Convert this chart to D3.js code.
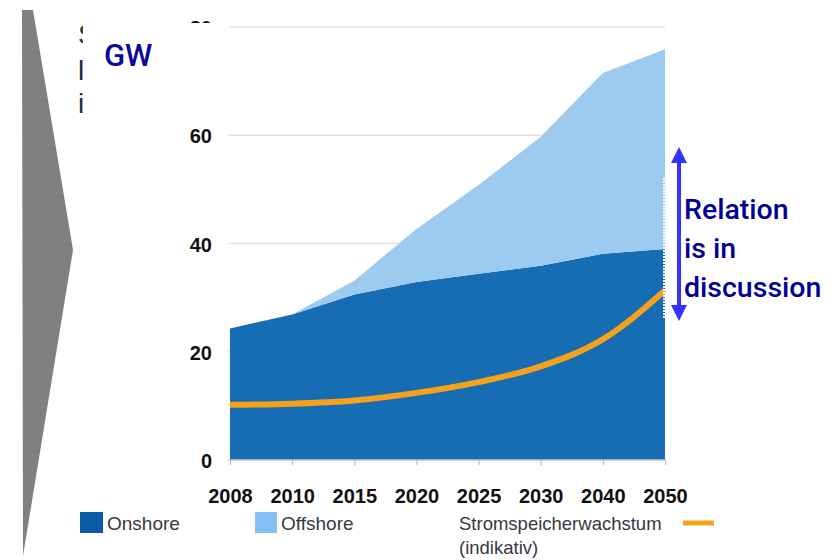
<!DOCTYPE html>
<html>
<head>
<meta charset="utf-8">
<script src="https://cdn.jsdelivr.net/npm/d3@7"></script>
<style>
  body { margin: 0; background: #fff; }
  #chartContainer { width: 834px; height: 560px; }
</style>
</head>
<body>
<div id="chartContainer"></div>
<script>
// Chart data (GW)
var years = ["2008", "2010", "2015", "2020", "2025", "2030", "2040", "2050"];
var onshore = [24.3, 26.9, 30.6, 32.9, 34.4, 35.9, 38.1, 39.0];
var offshore = [0, 0, 2.5, 9.8, 16.4, 23.8, 33.4, 36.9];
var storage = [10.2, 10.4, 11.0, 12.4, 14.4, 17.3, 22.3, 31.3];
var yTicks = [0, 20, 40, 60, 80];
var noteLines = ["Relation", "is in", "discussion"];

function init() {
    var w = 834;
    var h = 560;

    var svg = d3.select("#chartContainer")
                .append("svg")
                .attr("width", w)
                .attr("height", h);

    // Gray chevron on the left
    svg.append("polygon")
       .attr("points", "22,10 33,10 73,250 23,556")
       .attr("fill", "#808080");

    // Scales
    var x = d3.scalePoint()
              .domain(years)
              .range([230, 665]);

    var y = d3.scaleLinear()
              .domain([0, 80])
              .range([460, 27]);

    // Gridlines
    svg.append("g")
       .selectAll("line")
       .data(yTicks.filter(d => d > 0))
       .enter()
       .append("line")
       .attr("x1", 228)
       .attr("x2", 665)
       .attr("y1", d => y(d))
       .attr("y2", d => y(d))
       .attr("stroke", "#e2e2e2")
       .attr("stroke-width", 1.5);

    // Stacked areas
    var table = years.map(function(yr, i) {
        return { year: yr, onshore: onshore[i], offshore: offshore[i] };
    });
    var stack = d3.stack().keys(["onshore", "offshore"]);
    var series = stack(table);
    var colors = { onshore: "#176db3", offshore: "#9dcaef" };

    var area = d3.area()
                 .x(d => x(d.data.year))
                 .y0(d => y(d[0]))
                 .y1(d => y(d[1]));

    svg.selectAll("path.layer")
       .data(series)
       .enter()
       .append("path")
       .attr("class", "layer")
       .attr("d", area)
       .attr("fill", d => colors[d.key]);

    // Storage growth line (indicative)
    var line = d3.line()
                 .x((d, i) => x(years[i]))
                 .y(d => y(d))
                 .curve(d3.curveMonotoneX);

    svg.append("path")
       .datum(storage)
       .attr("d", line)
       .attr("fill", "none")
       .attr("stroke", "#f7a11a")
       .attr("stroke-width", 6);

    // White dotted strip at the right edge
    svg.append("line")
       .attr("x1", 665).attr("x2", 665)
       .attr("y1", 178).attr("y2", 318)
       .attr("stroke", "#f4f8fc")
       .attr("stroke-width", 4)
       .attr("stroke-dasharray", "2,1");

    // X axis
    var xAxis = svg.append("g")
                   .attr("transform", "translate(0,460)")
                   .call(d3.axisBottom(x).tickSize(5).tickSizeOuter(0).tickPadding(8));
    xAxis.select(".domain").attr("stroke", "#c8c8c8").attr("stroke-width", 1.5)
         .attr("d", "M228,0H666");
    xAxis.selectAll(".tick line").attr("stroke", "#c8c8c8").attr("stroke-width", 1.5);
    xAxis.selectAll(".tick text")
         .attr("y", 43)
         .attr("dy", 0)
         .style("font-family", "'Liberation Sans', Arial, sans-serif")
         .style("font-weight", "bold")
         .style("font-size", "20px")
         .attr("fill", "#111");

    // Y axis labels
    svg.append("g")
       .selectAll("text")
       .data(yTicks)
       .enter()
       .append("text")
       .attr("x", 212)
       .attr("y", d => y(d) + 8)
       .attr("text-anchor", "end")
       .style("font-family", "'Liberation Sans', Arial, sans-serif")
       .style("font-weight", "bold")
       .style("font-size", "20px")
       .attr("fill", "#111")
       .text(d => d);

    // Partly hidden text behind the unit box
    var hidden = [["S", 44, "#3a3325"], ["l", 80, "#23235a"], ["i", 113, "#23235a"]];
    svg.append("g")
       .selectAll("text")
       .data(hidden)
       .enter()
       .append("text")
       .attr("x", 78)
       .attr("y", d => d[1])
       .style("font-family", "'Liberation Sans', Arial, sans-serif")
       .style("font-size", "28px")
       .attr("fill", d => d[2])
       .text(d => d[0]);

    // White unit box with "GW"
    svg.append("rect")
       .attr("x", 83)
       .attr("y", 23)
       .attr("width", 147)
       .attr("height", 97)
       .attr("fill", "#fff");

    svg.append("text")
       .attr("x", 104)
       .attr("y", 66)
       .style("font-family", "Roboto, 'Liberation Sans', sans-serif")
       .style("font-weight", "500")
       .style("font-size", "31px")
       .attr("fill", "#0a0a99")
       .text("GW");

    // Double-headed arrow
    var arrowColor = "#3333ff";
    svg.append("line")
       .attr("x1", 679).attr("x2", 679)
       .attr("y1", 160).attr("y2", 308)
       .attr("stroke", arrowColor)
       .attr("stroke-width", 4);
    svg.append("polygon")
       .attr("points", "679,147 671,163 687,163")
       .attr("fill", arrowColor);
    svg.append("polygon")
       .attr("points", "679,321 671,305 687,305")
       .attr("fill", arrowColor);

    // Note text
    svg.append("g")
       .selectAll("text")
       .data(noteLines)
       .enter()
       .append("text")
       .attr("x", 684)
       .attr("y", (d, i) => 219 + i * 39)
       .style("font-family", "Roboto, 'Liberation Sans', sans-serif")
       .style("font-weight", "500")
       .style("font-size", "28.5px")
       .attr("fill", "#000099")
       .text(d => d);

    // Legend
    var legendFont = "'Liberation Sans', Arial, sans-serif";
    svg.append("rect")
       .attr("x", 80).attr("y", 512)
       .attr("width", 23).attr("height", 21)
       .attr("fill", "#0b5aa6");
    svg.append("text")
       .attr("x", 107).attr("y", 530)
       .style("font-family", legendFont)
       .style("font-size", "19px")
       .attr("fill", "#383844")
       .text("Onshore");

    svg.append("rect")
       .attr("x", 255).attr("y", 512)
       .attr("width", 22).attr("height", 21)
       .attr("fill", "#84c1f5");
    svg.append("text")
       .attr("x", 281).attr("y", 530)
       .style("font-family", legendFont)
       .style("font-size", "19px")
       .attr("fill", "#383844")
       .text("Offshore");

    svg.append("text")
       .attr("x", 459).attr("y", 530)
       .style("font-family", legendFont)
       .style("font-size", "18.5px")
       .attr("fill", "#383844")
       .text("Stromspeicherwachstum");
    svg.append("text")
       .attr("x", 459).attr("y", 554)
       .style("font-family", legendFont)
       .style("font-size", "18.5px")
       .attr("fill", "#383844")
       .text("(indikativ)");
    svg.append("line")
       .attr("x1", 683).attr("x2", 714)
       .attr("y1", 523).attr("y2", 523)
       .attr("stroke", "#f7a11a")
       .attr("stroke-width", 5);
}

window.onload = init;
</script>
</body>
</html>
